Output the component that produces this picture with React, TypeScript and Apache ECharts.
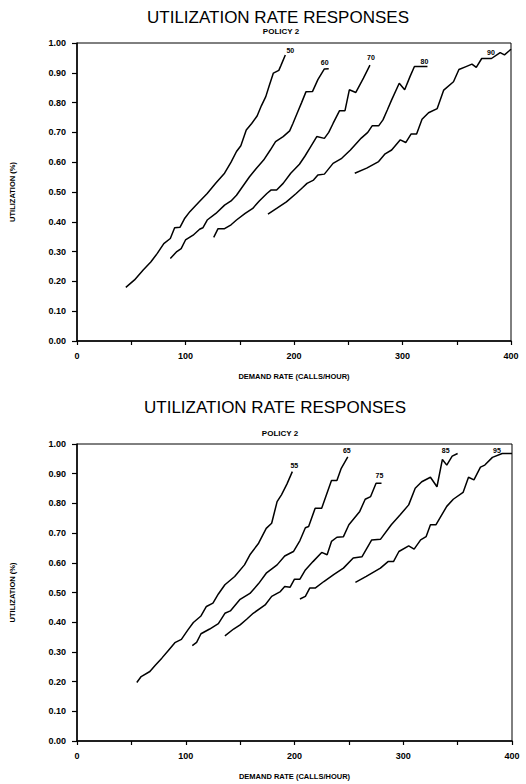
import React, { useEffect, useRef } from 'react';
import * as echarts from 'echarts';

const FONT = '"Liberation Sans", Arial, Helvetica, sans-serif';

const chartTitle = 'UTILIZATION RATE RESPONSES';
const chartSubtitle = 'POLICY 2';
const xAxisName = 'DEMAND RATE (CALLS/HOUR)';
const yAxisName = 'UTILIZATION (%)';

// Upper panel curves: [demand rate (calls/hour), utilization]
const upperNames = ['50', '60', '70', '80', '90'];
const upper50: [number, number][] = [[45,0.18],[53,0.205],[61,0.238],[68,0.265],[74,0.294],[80,0.327],[86,0.344],[90,0.38],[95,0.382],[99,0.41],[104,0.434],[112,0.465],[120,0.495],[128,0.53],[136,0.563],[142,0.6],[147,0.636],[151,0.655],[156,0.708],[161,0.73],[166,0.755],[170,0.79],[174,0.82],[177,0.855],[181,0.899],[186,0.908],[188,0.925],[192,0.96]];
const upper60: [number, number][] = [[86,0.277],[92,0.3],[96,0.31],[100,0.339],[107,0.355],[113,0.375],[116,0.38],[120,0.406],[128,0.428],[136,0.456],[142,0.47],[147,0.489],[153,0.52],[159,0.551],[165,0.578],[172,0.607],[178,0.64],[183,0.669],[190,0.686],[196,0.705],[199,0.73],[203,0.765],[207,0.8],[211,0.836],[217,0.837],[222,0.877],[228,0.913],[232,0.914]];
const upper70: [number, number][] = [[126,0.348],[130,0.377],[136,0.377],[142,0.39],[147,0.406],[155,0.428],[162,0.445],[168,0.47],[175,0.495],[179,0.507],[184,0.507],[190,0.529],[197,0.563],[205,0.593],[210,0.62],[215,0.65],[221,0.686],[228,0.68],[232,0.7],[236,0.73],[242,0.773],[247,0.773],[251,0.843],[257,0.834],[264,0.882],[270,0.926]];
const upper80: [number, number][] = [[176,0.426],[184,0.445],[193,0.467],[202,0.495],[208,0.515],[212,0.529],[218,0.54],[222,0.557],[228,0.56],[236,0.596],[244,0.613],[252,0.641],[262,0.681],[268,0.7],[272,0.722],[278,0.722],[282,0.742],[286,0.775],[290,0.809],[297,0.865],[302,0.843],[307,0.888],[311,0.921],[323,0.921]];
const upper90: [number, number][] = [[256,0.563],[267,0.58],[278,0.602],[284,0.628],[290,0.641],[298,0.675],[303,0.666],[308,0.695],[313,0.695],[318,0.744],[324,0.766],[332,0.78],[338,0.842],[347,0.87],[352,0.911],[358,0.92],[364,0.929],[368,0.918],[373,0.948],[382,0.948],[390,0.968],[394,0.96],[400,0.979]];

// Lower panel curves
const lowerNames = ['55', '65', '75', '85', '95'];
const lower55: [number, number][] = [[55,0.197],[59,0.217],[67,0.234],[72,0.255],[78,0.279],[84,0.305],[90,0.331],[96,0.342],[102,0.374],[107,0.399],[114,0.421],[119,0.453],[125,0.464],[130,0.495],[136,0.526],[145,0.554],[154,0.593],[159,0.627],[167,0.666],[174,0.716],[179,0.733],[184,0.806],[188,0.829],[193,0.865],[198,0.907]];
const lower65: [number, number][] = [[106,0.321],[110,0.332],[114,0.361],[122,0.377],[130,0.395],[136,0.43],[141,0.438],[150,0.477],[159,0.497],[167,0.53],[174,0.565],[184,0.593],[191,0.623],[199,0.638],[205,0.675],[210,0.718],[213,0.722],[219,0.784],[225,0.784],[234,0.877],[239,0.877],[243,0.918],[249,0.957]];
const lower75: [number, number][] = [[136,0.354],[144,0.377],[150,0.391],[156,0.41],[162,0.43],[173,0.458],[179,0.487],[187,0.503],[191,0.52],[196,0.518],[200,0.545],[205,0.545],[210,0.576],[217,0.604],[225,0.635],[230,0.627],[234,0.672],[239,0.686],[245,0.688],[250,0.728],[260,0.773],[265,0.814],[270,0.823],[275,0.868],[280,0.868]];
const lower85: [number, number][] = [[205,0.478],[210,0.487],[214,0.515],[219,0.515],[227,0.537],[236,0.56],[245,0.582],[254,0.616],[262,0.62],[271,0.677],[279,0.679],[289,0.728],[297,0.761],[305,0.795],[311,0.851],[317,0.873],[325,0.888],[331,0.856],[336,0.948],[340,0.929],[345,0.959],[350,0.968]];
const lower95: [number, number][] = [[256,0.534],[266,0.554],[279,0.582],[286,0.604],[291,0.604],[296,0.638],[305,0.657],[310,0.646],[316,0.677],[321,0.688],[325,0.728],[330,0.728],[340,0.79],[346,0.814],[355,0.837],[360,0.888],[365,0.879],[371,0.922],[375,0.929],[382,0.955],[391,0.968],[400,0.968]];

const upperSeries = [upper50, upper60, upper70, upper80, upper90];
const lowerSeries = [lower55, lower65, lower75, lower85, lower95];

const upperLabelOffsets: [number, number][] = [[5, -4], [-4, -6], [1, -8], [-3, -5], [-20, 3]];
const lowerLabelOffsets: [number, number][] = [[2, -6], [-1, -6], [-2, -8], [-12, -3], [-15, -3]];

const axisText = { color: '#000', fontFamily: FONT, fontWeight: 'bold' as const };

function makeXAxis(gridIndex: number) {
  return {
    type: 'value', gridIndex, min: 0, max: 400, interval: 50,
    axisLine: { show: true, lineStyle: { color: '#000', width: 1.5 } },
    axisTick: { show: true, length: 4, lineStyle: { color: '#000', width: 1.2 } },
    axisLabel: { ...axisText, fontSize: 9, margin: 10, formatter: (v: number) => (v % 100 === 0 ? String(v) : '') },
    splitLine: { show: false },
    name: xAxisName, nameLocation: 'middle', nameGap: 31,
    nameTextStyle: { ...axisText, fontSize: 7.5 },
  };
}

function makeYAxis(gridIndex: number) {
  return {
    type: 'value', gridIndex, min: 0, max: 1, interval: 0.1,
    axisLine: { show: true, lineStyle: { color: '#000', width: 1.5 } },
    axisTick: { show: true, length: 5, lineStyle: { color: '#000', width: 1.2 } },
    axisLabel: { ...axisText, fontSize: 9, margin: 11, formatter: (v: number) => v.toFixed(2) },
    splitLine: { show: false },
    name: yAxisName, nameLocation: 'middle', nameGap: 61,
    nameTextStyle: { ...axisText, fontSize: 7.5 },
  };
}

function makeSeries(names: string[], datasets: [number, number][][], offsets: [number, number][], idx: number) {
  return datasets.map((d, i) => ({
    type: 'line', name: names[i], xAxisIndex: idx, yAxisIndex: idx, data: d,
    color: '#000',
    symbol: 'none', showSymbol: false, silent: true,
    itemStyle: { color: '#000' },
    lineStyle: { color: '#000', width: 1.5 },
    endLabel: {
      show: true, formatter: names[i], distance: 0, align: 'center', verticalAlign: 'middle',
      offset: offsets[i], fontSize: 7, fontWeight: 'bold', color: '#000', fontFamily: FONT,
      textBorderWidth: 0, textBorderColor: 'transparent',
    },
  }));
}

export default function App() {
  const ref = useRef<HTMLDivElement>(null);
  useEffect(() => {
    if (!ref.current) return;
    const chart = echarts.init(ref.current, undefined, { renderer: 'svg' });
    const titleStyle = (y: number, x: number, text: string, size: number, weight: string) => ({
      type: 'text', x, y,
      style: { text, fontSize: size, fontWeight: weight, fontFamily: FONT, fill: '#000', align: 'center', verticalAlign: 'middle' },
    });
    chart.setOption({
      animation: false,
      backgroundColor: '#fff',
      color: ['#000'],
      grid: [
        { left: 77, top: 43, width: 434, height: 298, show: true, borderColor: '#000', borderWidth: 1, backgroundColor: 'transparent' },
        { left: 77, top: 444, width: 435, height: 297, show: true, borderColor: '#000', borderWidth: 1, backgroundColor: 'transparent' },
      ],
      xAxis: [makeXAxis(0), makeXAxis(1)],
      yAxis: [makeYAxis(0), makeYAxis(1)],
      series: [
        ...makeSeries(upperNames, upperSeries, upperLabelOffsets, 0),
        ...makeSeries(lowerNames, lowerSeries, lowerLabelOffsets, 1),
      ],
      graphic: [
        titleStyle(17, 278, chartTitle, 17, 'normal'),
        titleStyle(31, 281, chartSubtitle, 8, 'bold'),
        titleStyle(407, 275, chartTitle, 17, 'normal'),
        titleStyle(433, 280, chartSubtitle, 8, 'bold'),
      ],
    });
    return () => chart.dispose();
  }, []);
  return <div ref={ref} style={{ position: 'absolute', left: 0, top: 0, width: 526, height: 784, background: '#fff' }} />;
}
